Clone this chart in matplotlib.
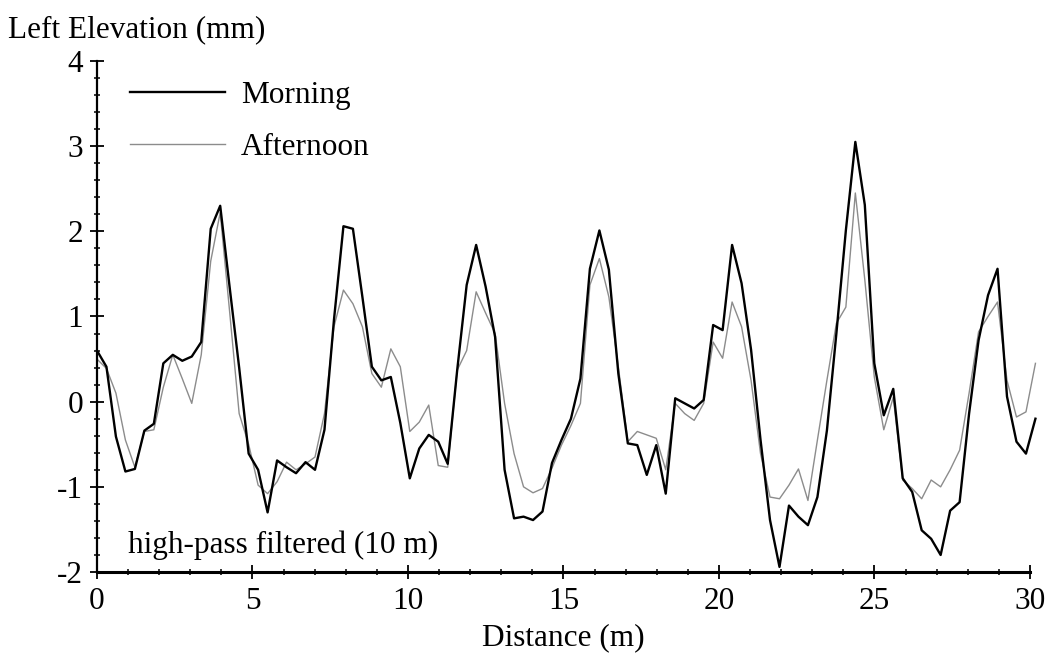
#Left elevation profile, morning vs afternoon, high-pass filtered
import numpy as np
import matplotlib
matplotlib.use('Agg')
import matplotlib.pyplot as plt
from matplotlib.ticker import MultipleLocator

plt.rcParams['font.family'] = ['Liberation Serif', 'DejaVu Serif']
plt.rcParams['axes.unicode_minus'] = False

# samples every foot (0.3048 m), 100 points
distance = [i * 0.3048 for i in range(100)]

morning = [0.60, 0.41, -0.41, -0.82, -0.79, -0.34, -0.26, 0.45, 0.55, 0.48,
           0.53, 0.70, 2.03, 2.30, 1.34, 0.40, -0.61, -0.80, -1.30, -0.69,
           -0.77, -0.84, -0.71, -0.80, -0.33, 0.96, 2.06, 2.03, 1.23, 0.41,
           0.25, 0.29, -0.25, -0.90, -0.55, -0.39, -0.47, -0.73, 0.37, 1.37,
           1.84, 1.35, 0.76, -0.80, -1.37, -1.35, -1.39, -1.29, -0.72, -0.45,
           -0.20, 0.27, 1.56, 2.01, 1.55, 0.33, -0.49, -0.51, -0.86, -0.51,
           -1.08, 0.04, -0.02, -0.08, 0.02, 0.90, 0.84, 1.84, 1.39, 0.61,
           -0.45, -1.39, -1.94, -1.22, -1.35, -1.45, -1.12, -0.34, 0.80, 2.01,
           3.05, 2.31, 0.45, -0.16, 0.15, -0.90, -1.06, -1.51, -1.61, -1.80,
           -1.28, -1.18, -0.14, 0.72, 1.25, 1.56, 0.06, -0.47, -0.61, -0.20]

afternoon = [0.50, 0.39, 0.10, -0.45, -0.77, -0.35, -0.33, 0.17, 0.55, 0.27,
             -0.02, 0.55, 1.65, 2.22, 1.05, -0.14, -0.50, -0.98, -1.08, -0.94,
             -0.71, -0.80, -0.73, -0.65, -0.14, 0.88, 1.31, 1.15, 0.88, 0.33,
             0.17, 0.62, 0.41, -0.35, -0.24, -0.04, -0.75, -0.77, 0.37, 0.60,
             1.29, 1.04, 0.80, -0.02, -0.61, -1.00, -1.07, -1.02, -0.78, -0.51,
             -0.28, -0.02, 1.37, 1.68, 1.23, 0.41, -0.47, -0.35, -0.39, -0.43,
             -0.80, -0.02, -0.14, -0.22, -0.02, 0.70, 0.51, 1.17, 0.88, 0.25,
             -0.61, -1.12, -1.14, -0.98, -0.79, -1.16, -0.45, 0.25, 0.92, 1.11,
             2.45, 1.43, 0.29, -0.33, 0.05, -0.92, -1.02, -1.14, -0.92, -1.00,
             -0.80, -0.57, 0.10, 0.82, 1.00, 1.17, 0.25, -0.18, -0.12, 0.45]

fs = 22.5

fig = plt.figure(figsize=(10.46, 6.55), dpi=100)
ax = fig.add_axes([0.0927, 0.1267, 0.892, 0.7802])

ax.plot(distance, afternoon, color='#8c8c8c', lw=1.0, label='Afternoon', clip_on=False, zorder=2)
ax.plot(distance, morning, color='black', lw=1.7, label='Morning', clip_on=False, zorder=3)

ax.set_xlim(0, 30)
ax.set_ylim(-2, 4)
ax.spines['top'].set_visible(False)
ax.spines['right'].set_visible(False)
ax.spines['bottom'].set_linewidth(2.2)
ax.spines['left'].set_linewidth(1.6)

ax.xaxis.set_major_locator(MultipleLocator(5))
ax.xaxis.set_minor_locator(MultipleLocator(1))
ax.yaxis.set_major_locator(MultipleLocator(1))
ax.yaxis.set_minor_locator(MultipleLocator(0.2))
ax.tick_params(axis='both', which='major', direction='inout', length=10, width=1.3, labelsize=fs)
ax.tick_params(axis='both', which='minor', direction='inout', length=5, width=1.1)
ax.tick_params(axis='y', which='major', pad=5)
ax.tick_params(axis='x', which='major', pad=6)

ax.set_xlabel('Distance (m)', fontsize=fs, labelpad=5)
fig.text(0.008, 0.955, 'Left Elevation (mm)', fontsize=fs, ha='left', va='center')
ax.text(1.0, -1.68, 'high-pass filtered (10 m)', fontsize=fs, ha='left', va='center')

handles, labels = ax.get_legend_handles_labels()
ax.legend(handles[::-1], labels[::-1], loc='upper left', bbox_to_anchor=(0.012, 1.004),
          frameon=False, fontsize=fs, handlelength=3.05, handletextpad=0.5,
          labelspacing=0.75, borderaxespad=0.3)

plt.savefig('out.png', dpi=100)
